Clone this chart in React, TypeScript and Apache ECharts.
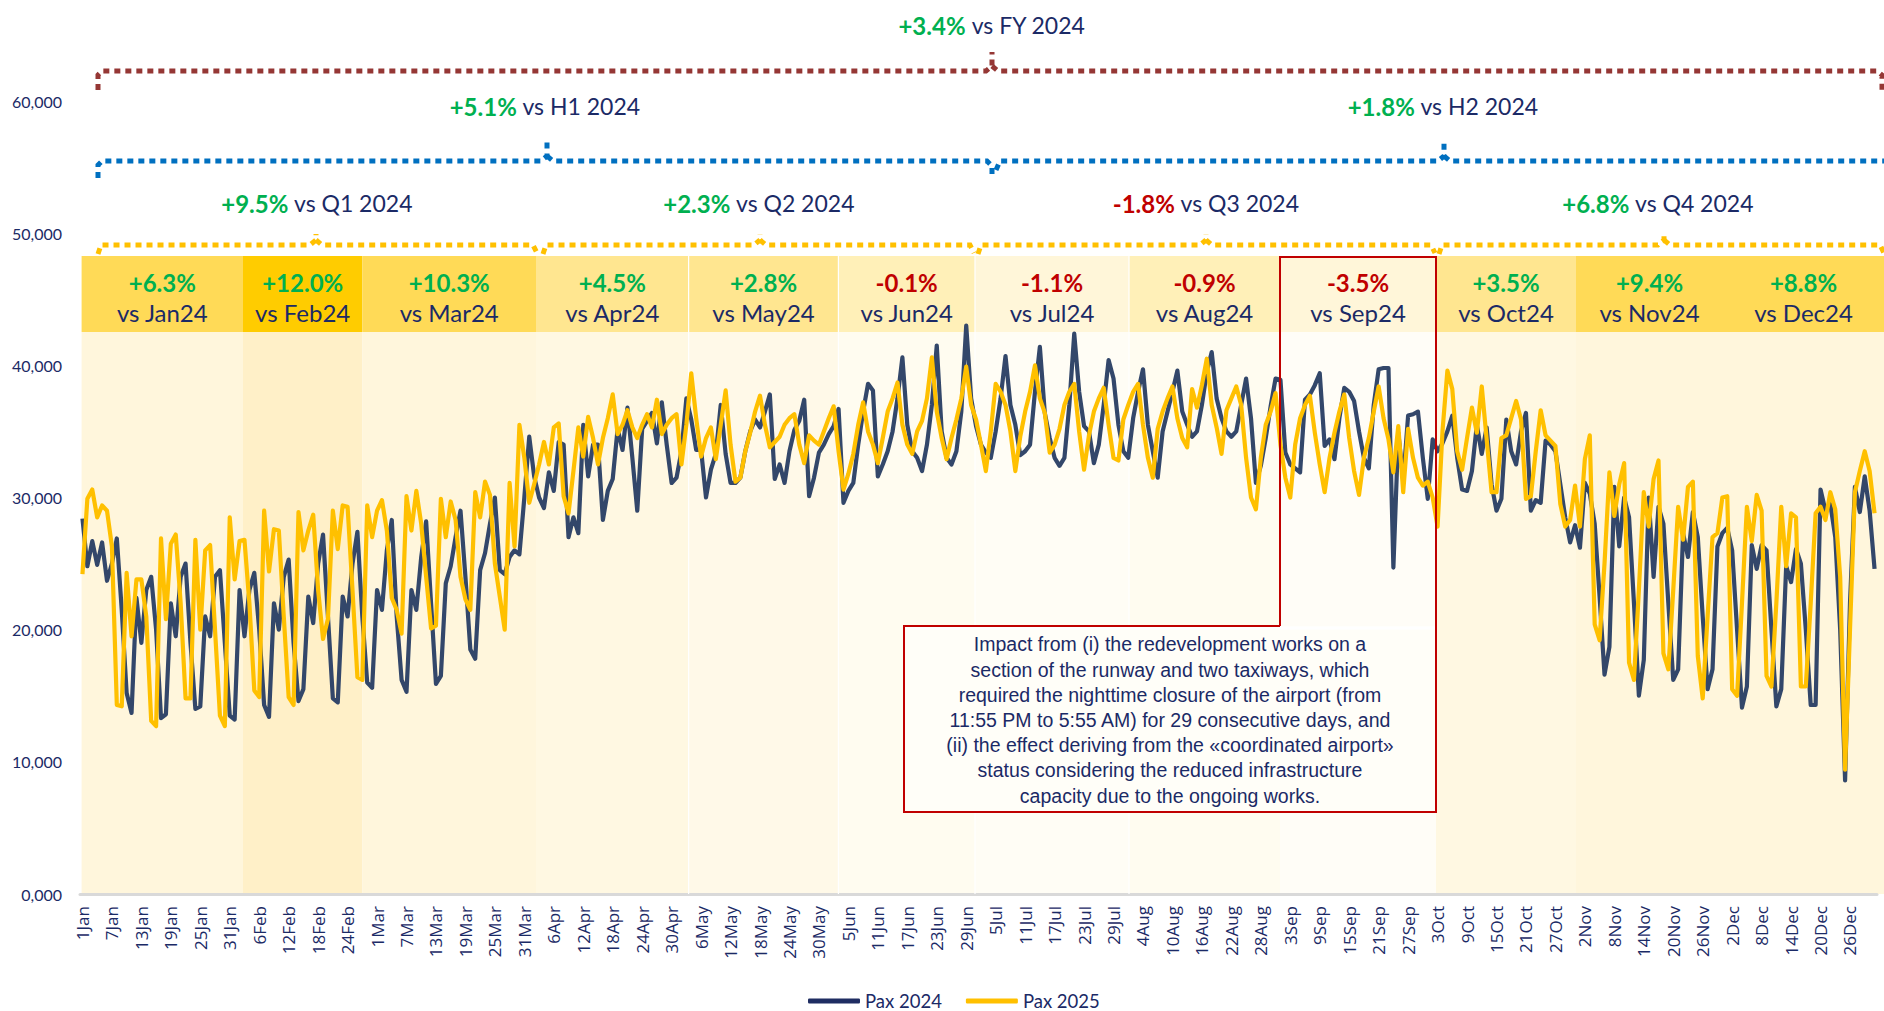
import React, { useEffect, useRef } from "react";
import * as echarts from "echarts";

// ---------------- DATA ----------------
const MONTHS = ["Jan", "Feb", "Mar", "Apr", "May", "Jun", "Jul", "Aug", "Sep", "Oct", "Nov", "Dec"];
const MONTH_DAYS = [31, 29, 31, 30, 31, 30, 31, 31, 30, 31, 30, 31];

const PAX_2024 = [
  28400, 24800, 26700, 24900, 26600, 23700, 25000,
  26900, 21500, 15200, 13700, 22400, 19000, 23000,
  24000, 20000, 13300, 13600, 22000, 19500, 24000,
  25000, 19000, 14000, 14200, 21000, 19500, 24000,
  24500, 19000, 13500, 13200, 23000, 19500, 23000,
  24300, 20000, 14300, 13400, 22000, 20000, 24000,
  25300, 19000, 14600, 15500, 22500, 20500, 25000,
  27200, 21000, 14800, 14500, 22500, 21000, 25000,
  27400, 21000, 16000, 15600, 23000, 21500, 26000,
  28300, 21000, 16200, 15300, 23000, 21500, 25500,
  28200, 22000, 15900, 16500, 23500, 24800, 27000,
  29000, 24000, 18500, 17800, 24500, 25800, 28000,
  30000, 24500, 24200, 25500, 26000, 25700, 30000,
  34600, 31600, 30000, 29200, 31900, 30500, 34200,
  34000, 27000, 28500, 27300, 35500, 31600, 34000,
  34000, 28300, 30500, 31400, 35200, 33600, 36800,
  33000, 29000, 35200, 35800, 36400, 34100, 37200,
  34000, 31100, 31500, 33500, 37500, 35900, 33600,
  33600, 30000, 32100, 33300, 37000, 33300, 31100,
  31100, 31500, 33500, 35000, 35900, 35300, 36500,
  37800, 31400, 32500, 31100, 33500, 35100, 35800,
  37400, 30100, 31500, 33400, 34000, 34800, 35400,
  36700, 29600, 30500, 31100, 34000, 36500, 38600,
  38100, 31600, 32500, 33500, 35000, 37500, 40600,
  35500, 33500, 33000, 32000, 34000, 37000, 41500,
  35000, 33000, 32500, 33500, 36500, 43000, 37500,
  35400, 34000, 33400, 33000, 35000, 37500, 40700,
  37000, 35500, 33200, 33500, 34000, 38000, 41400,
  36400, 34500, 33000, 32400, 33000, 37000, 42400,
  38000, 35400, 35000, 32600, 34000, 37000, 40400,
  39000, 35500, 33500, 33000, 36000, 38000, 39700,
  35500, 33500, 31500, 35000, 36500, 38000, 39600,
  36500, 35500, 34600, 35000, 37000, 39500, 41000,
  37500, 36000, 35000, 34600, 35000, 37000, 39000,
  36000, 31100, 32400, 34500, 36900, 39000, 38900,
  33400, 32500, 32200, 31900, 37400, 37800, 38500,
  39400, 33900, 34400, 32900, 36000, 38300, 38000,
  37300, 35000, 33000, 32200, 37000, 39700, 39800,
  39800, 24700, 34900, 31300, 36200, 36300, 36500,
  33000, 29900, 34400, 33500, 34100, 35000, 36200,
  33000, 30600, 30500, 32000, 35500, 33300, 35300,
  31000, 29000, 29900, 35900, 33500, 32500, 35000,
  36400, 29000, 29800, 29600, 34300, 34000, 33500,
  31000, 28500, 26600, 27900, 26200, 31100, 30300,
  28000, 22500, 16600, 18700, 30800, 26300, 30000,
  28500, 22000, 15000, 17700, 30000, 24000, 29300,
  28000, 22000, 16200, 17000, 27300, 25500, 28900,
  27000, 21000, 15500, 17000, 26300, 27300, 27700,
  26000, 20000, 14100, 15700, 26400, 24600, 26400,
  26000, 20000, 14200, 15500, 24800, 23600, 26100,
  25000, 20000, 14300, 14300, 30600, 29000, 29500,
  27000, 20000, 8600, 22000, 30800, 28900, 31600,
  29000, 24600,
];

const PAX_2025 = [
  24200, 29900, 30600, 28500, 29400, 29000, 26300,
  14300, 14200, 24300, 19500, 23800, 23800, 21000,
  13100, 12700, 26900, 20800, 26500, 27200, 22000,
  14800, 14800, 26800, 20000, 26000, 26400, 20000,
  13500, 12700, 28500, 23800, 26700, 26800, 22000,
  15400, 14900, 29000, 24400, 27600, 27500, 21000,
  14900, 14300, 28900, 26000, 27500, 28700, 23000,
  19300, 20800, 29000, 26100, 29400, 29300, 23000,
  16400, 16200, 29400, 27000, 29000, 29800, 27500,
  22400, 21500, 19700, 30100, 27500, 30500, 28000,
  24000, 20100, 20300, 29900, 27000, 29700, 28300,
  24000, 22300, 21500, 30400, 28500, 31200, 30200,
  25000, 22500, 20000, 31100, 26300, 35500, 33000,
  29600, 31000, 32500, 34200, 32500, 35300, 35600,
  30100, 28800, 32000, 35300, 33100, 36100, 34500,
  32500, 34500, 36000, 37800, 34800, 35500, 36600,
  35300, 34500, 35500, 36300, 35300, 37400, 34800,
  35500, 36000, 36300, 32500, 35500, 39400, 36000,
  33100, 34500, 35300, 32900, 35500, 38100, 34000,
  31200, 31500, 33500, 34900, 36500, 37700, 35500,
  33800, 34200, 34600, 35500, 36000, 36300, 34000,
  32600, 34700, 34300, 34000, 35000, 36000, 36900,
  33500, 30600, 31800, 33300, 35500, 37200, 35000,
  34000, 32600, 34500, 36500, 37500, 38700, 35500,
  34000, 33300, 35000, 35800, 37500, 40600, 36500,
  34500, 32900, 34500, 35900, 37500, 39900, 37000,
  35900, 34000, 32000, 35000, 38600, 38000, 37000,
  35000, 32000, 34600, 36500, 38000, 40000, 37500,
  36400, 33400, 34000, 35200, 37000, 38000, 38600,
  35000, 32100, 34700, 36500, 37500, 38300, 35500,
  33000, 32800, 35900, 37000, 38000, 38600, 35500,
  33000, 31500, 35200, 36500, 37500, 38400, 36000,
  34500, 33800, 38200, 36800, 38500, 40500, 37000,
  35300, 33300, 36600, 37500, 38400, 37000, 33000,
  30000, 29100, 33000, 35500, 36500, 37900, 34000,
  31500, 30000, 34000, 36000, 37000, 37700, 34900,
  32500, 30400, 33000, 34900, 36500, 37800, 34500,
  32000, 30200, 33000, 34500, 36500, 38400, 36000,
  34400, 31900, 35400, 30400, 35200, 33000, 31500,
  30900, 31200, 30000, 27800, 35000, 39600, 38200,
  33500, 32100, 34500, 36800, 34900, 38400, 34400,
  30400, 30400, 34500, 34700, 36000, 37300, 35900,
  29900, 30100, 33500, 36600, 34700, 34300, 33900,
  29500, 27800, 28300, 30900, 27800, 32900, 34700,
  20400, 19200, 25000, 31900, 28600, 31000, 32600,
  17500, 16200, 23000, 30400, 27800, 31400, 32800,
  18200, 17000, 23000, 29300, 26800, 30800, 31200,
  18000, 14800, 21000, 27000, 27300, 30000, 30100,
  15500, 15000, 22000, 29300, 26700, 30200, 29000,
  16500, 15700, 22000, 29300, 24800, 28800, 28500,
  15700, 15700, 22000, 28800, 29300, 28300, 30400,
  29100, 24000, 9400, 20000, 30400, 32000, 33500,
  32000, 28800,
];

const MONTH_CHANGE = ["+6.3%", "+12.0%", "+10.3%", "+4.5%", "+2.8%", "-0.1%", "-1.1%", "-0.9%", "-3.5%", "+3.5%", "+9.4%", "+8.8%"];
const MONTH_VS = ["vs Jan24", "vs Feb24", "vs Mar24", "vs Apr24", "vs May24", "vs Jun24", "vs Jul24", "vs Aug24", "vs Sep24", "vs Oct24", "vs Nov24", "vs Dec24"];
const QUARTER_CHANGE = ["+9.5%", "+2.3%", "-1.8%", "+6.8%"];
const QUARTER_VS = [" vs Q1 2024", " vs Q2 2024", " vs Q3 2024", " vs Q4 2024"];
const HALF_CHANGE = ["+5.1%", "+1.8%"];
const HALF_VS = [" vs H1 2024", " vs H2 2024"];
const FY_CHANGE = "+3.4%";
const FY_VS = " vs FY 2024";
const SERIES_NAMES = ["Pax 2024", "Pax 2025"];
const NOTE =
  "Impact from (i) the redevelopment works on a\nsection of the runway and two taxiways, which\nrequired the nighttime closure of the airport (from\n11:55 PM to 5:55 AM) for 29 consecutive days, and\n(ii) the effect deriving from the \u00abcoordinated airport\u00bb\nstatus considering the reduced infrastructure\ncapacity due to the ongoing works.";

// ---------------- LAYOUT / STYLE ----------------
const W = 1884;
const H = 1011;
const NAVY_TEXT = "#1B2A66";
const GREEN = "#00B050";
const RED = "#C00000";
const LINE_2024 = "#33476A";
const LINE_2025 = "#FFC000";
const BAND_X = [81.6, 243, 362.4, 536, 688.6, 838.4, 975, 1129, 1280, 1436, 1576, 1723, 1884];
const HEAD_TOP = 256;
const HEAD_BOTTOM = 332;
const BODY_BOTTOM = 894;
const HEAD_COLORS = ["#FFDA57", "#FFCC00", "#FFDA57", "#FFE690", "#FFE690", "#FFF0B8", "#FFF6D9", "#FFF0B8", "#FFF6D9", "#FFE690", "#FFDA57", "#FFDA57"];
const BODY_COLORS = ["#FFF6DC", "#FFF0C8", "#FFF6DC", "#FFF8E2", "#FFF9E8", "#FFFCF0", "#FFFDF5", "#FFFCF0", "#FFFDF7", "#FFF8E2", "#FFF6DC", "#FFF6DC"];

const CATEGORIES: string[] = [];
MONTHS.forEach((m, i) => {
  for (let d = 1; d <= MONTH_DAYS[i]; d++) CATEGORIES.push(`${d}${m}`);
});

const richText = (x: number, y: number, pct: string, rest: string, z = 6) => ({
  type: "text",
  x,
  y,
  z,
  style: {
    text: `{p|${pct}}{n|${rest}}`,
    align: "center",
    verticalAlign: "middle",
    rich: {
      p: { fontFamily: "Lato", fontWeight: "bold", fontSize: 24, fill: pct.startsWith("-") ? RED : GREEN },
      n: { fontFamily: "Lato", fontSize: 23, fill: NAVY_TEXT },
    },
  },
});

const dotted = (points: number[][], color: string) => ({
  type: "polyline",
  z: 4,
  shape: { points },
  style: { stroke: color, lineWidth: 5, lineDash: [6, 5], lineCap: "butt", fill: null },
});

function buildGraphics() {
  const g: any[] = [];
  for (let i = 0; i < 12; i++) {
    const x0 = BAND_X[i];
    const w = BAND_X[i + 1] - x0;
    g.push({ type: "rect", z: 0, shape: { x: x0, y: HEAD_BOTTOM, width: w, height: BODY_BOTTOM - HEAD_BOTTOM }, style: { fill: BODY_COLORS[i] } });
    g.push({ type: "rect", z: 0, shape: { x: x0, y: HEAD_TOP, width: w, height: HEAD_BOTTOM - HEAD_TOP }, style: { fill: HEAD_COLORS[i] } });
    const cx = x0 + w / 2;
    g.push({
      type: "text", x: cx, y: 282, z: 6,
      style: { text: MONTH_CHANGE[i], align: "center", verticalAlign: "middle", fontFamily: "Lato", fontWeight: "bold", fontSize: 24, fill: MONTH_CHANGE[i].startsWith("-") ? RED : GREEN },
    });
    g.push({
      type: "text", x: cx, y: 312, z: 6,
      style: { text: MONTH_VS[i], align: "center", verticalAlign: "middle", fontFamily: "Lato", fontSize: 24, fill: NAVY_TEXT },
    });
  }
  [688.6, 838.4, 975, 1129].forEach((x) => {
    g.push({ type: "line", z: 1, shape: { x1: x, y1: HEAD_TOP, x2: x, y2: BODY_BOTTOM }, style: { stroke: "#FFFFFF", lineWidth: 1.2 } });
  });

  const FYC = "#953735";
  g.push(dotted([[98, 90], [98, 75], [102, 71], [986, 71], [992, 66], [992, 52]], FYC));
  g.push(dotted([[992, 66], [998, 71], [1877, 71], [1882, 75], [1882, 90]], FYC));
  g.push(richText(992, 25, FY_CHANGE, FY_VS));

  const HC = "#0070C0";
  g.push(dotted([[98, 178], [98, 165], [102, 161], [541, 161], [547, 156], [547, 141]], HC));
  g.push(dotted([[547, 156], [553, 161], [987, 161], [992, 166], [992, 178]], HC));
  g.push(dotted([[996, 170], [1000, 161], [1438, 161], [1444, 156], [1444, 140]], HC));
  g.push(dotted([[1444, 156], [1450, 161], [1884, 161]], HC));
  g.push(richText(545, 106, HALF_CHANGE[0], HALF_VS[0]));
  g.push(richText(1443, 106, HALF_CHANGE[1], HALF_VS[1]));

  const QC = "#FFC000";
  const qs = [
    [98, 316, 537],
    [543, 760, 974],
    [978, 1206, 1435],
    [1439, 1664, 1884],
  ];
  qs.forEach(([a, m, b]) => {
    g.push(dotted([[a, 254], [a + 3, 245], [m - 6, 245], [m, 240], [m, 234]], QC));
    g.push(dotted([[m, 240], [m + 6, 245], [b - 4, 245], [b, 253]], QC));
  });
  g.push(richText(317, 203, QUARTER_CHANGE[0], QUARTER_VS[0]));
  g.push(richText(759, 203, QUARTER_CHANGE[1], QUARTER_VS[1]));
  g.push(richText(1206, 203, QUARTER_CHANGE[2], QUARTER_VS[2]));
  g.push(richText(1658, 203, QUARTER_CHANGE[3], QUARTER_VS[3]));

  g.push({ type: "rect", z: 7, shape: { x: 904, y: 626, width: 532, height: 186 }, style: { fill: "#FFFEF8" } });
  g.push({ type: "line", z: 7, shape: { x1: 904, y1: 628, x2: 1436, y2: 628 }, style: { stroke: "#FFFFFF", lineWidth: 3 } });
  g.push({
    type: "polyline", z: 8,
    shape: { points: [[1280, 626], [1280, 257], [1436, 257], [1436, 812], [904, 812], [904, 626], [1280, 626]] },
    style: { stroke: RED, lineWidth: 2, fill: null },
  });
  g.push({
    type: "text", x: 1170, y: 720, z: 9,
    style: { text: NOTE, align: "center", verticalAlign: "middle", fontFamily: "Liberation Sans", fontSize: 19.5, lineHeight: 25.2, fill: NAVY_TEXT },
  });
  return g;
}

export default function App() {
  const ref = useRef<HTMLDivElement>(null);
  useEffect(() => {
    if (!ref.current) return;
    const chart = echarts.init(ref.current, undefined, { renderer: "svg" });
    chart.setOption({
      animation: false,
      backgroundColor: "#FFFFFF",
      grid: { left: 80, right: 7, top: 101, bottom: 117, containLabel: false },
      legend: {
        left: 803,
        top: 986,
        itemWidth: 52,
        itemHeight: 5,
        itemGap: 24,
        textStyle: { fontFamily: "Lato", fontSize: 18.5, lineHeight: 20, color: NAVY_TEXT },
        data: [
          { name: SERIES_NAMES[0], icon: "roundRect", itemStyle: { color: "#1F2D62" } },
          { name: SERIES_NAMES[1], icon: "roundRect", itemStyle: { color: "#FFC000" } },
        ],
      },
      xAxis: {
        type: "category",
        data: CATEGORIES,
        boundaryGap: true,
        axisTick: { show: false },
        axisLine: { lineStyle: { color: "#D9D9D9", width: 3 } },
        axisLabel: {
          interval: 5,
          rotate: 90,
          margin: 12,
          fontFamily: "Open Sans",
          fontSize: 17,
          color: NAVY_TEXT,
        },
        splitLine: { show: false },
      },
      yAxis: {
        type: "value",
        min: 0,
        max: 60000,
        interval: 10000,
        axisLine: { show: false },
        axisTick: { show: false },
        splitLine: { show: false },
        axisLabel: {
          margin: 18,
          fontFamily: "Lato",
          fontSize: 16,
          color: NAVY_TEXT,
          formatter: (v: number) => (v === 0 ? "0,000" : v.toLocaleString("en-US")),
        },
      },
      series: [
        {
          name: SERIES_NAMES[0],
          type: "line",
          data: PAX_2024,
          showSymbol: false,
          z: 3,
          lineStyle: { color: LINE_2024, width: 4.2, join: "round" },
          itemStyle: { color: LINE_2024 },
        },
        {
          name: SERIES_NAMES[1],
          type: "line",
          data: PAX_2025,
          showSymbol: false,
          z: 4,
          lineStyle: { color: LINE_2025, width: 4.2, join: "round" },
          itemStyle: { color: LINE_2025 },
        },
      ],
      graphic: { elements: buildGraphics() },
    });
    return () => chart.dispose();
  }, []);
  return (
    <div
      ref={ref}
      style={{ position: "fixed", left: 0, top: 0, width: W, height: H, background: "#FFFFFF" }}
    />
  );
}
